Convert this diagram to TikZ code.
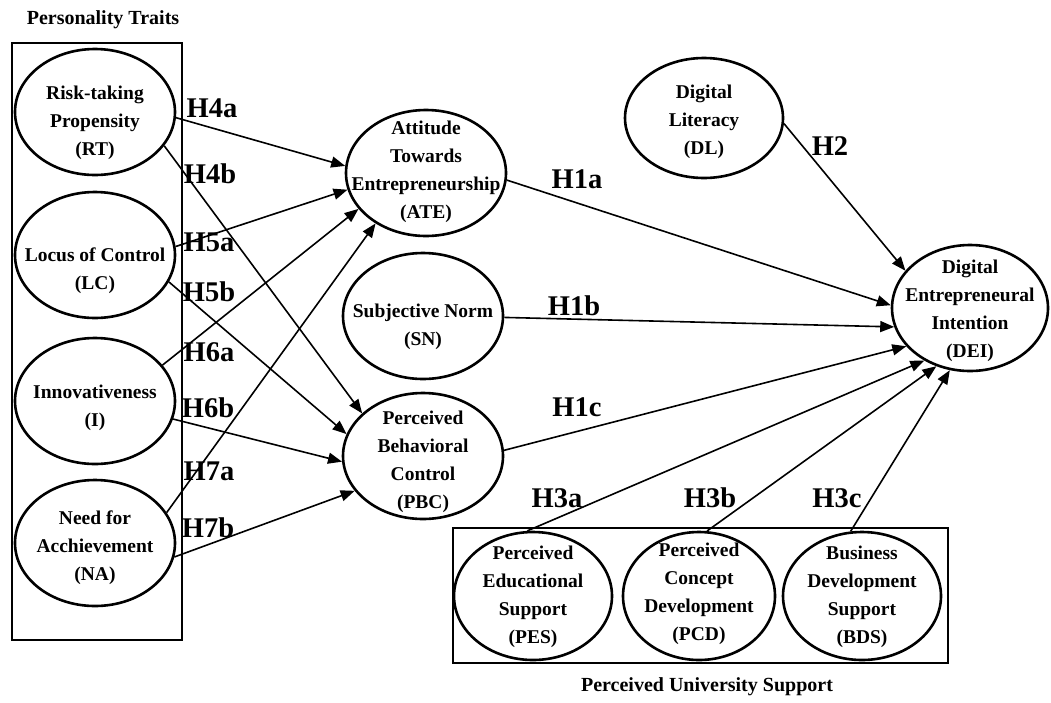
\documentclass[tikz,border=0pt]{standalone}
\usepackage{fontspec}
\setmainfont{Liberation Serif}
\usepackage{tikz}
\usetikzlibrary{shapes.geometric,arrows.meta}

% text inside an ellipse, kept from growing the shape; optional drop
\newcommand{\lattext}[2][0pt]{\makebox[0pt]{\smash{\raisebox{\dimexpr-5pt-#1\relax}{\begin{tabular}{@{}c@{}}#2\end{tabular}}}}}

\begin{document}
\begin{tikzpicture}[
  x=1pt, y=-1pt,
  lat/.style={
    ellipse, draw=black, line width=2.6pt, inner sep=0pt,
    minimum width=160pt, minimum height=126pt,
    font=\fontsize{19.5}{28}\selectfont\bfseries
  },
  ttl/.style={font=\fontsize{20}{24}\selectfont\bfseries, inner sep=0pt},
  hyp/.style={font=\fontsize{28.5}{30}\selectfont\bfseries, inner sep=0pt},
  grp/.style={draw=black, line width=2.4pt},
  arr/.style={-{Triangle[length=14pt,width=11pt]}, line width=1.6pt}
]
\useasboundingbox (0,0) rectangle (1051,702);

% Group frames
\draw[grp] (12,43) rectangle (182,640);
\draw[grp] (453,528) rectangle (948,663);
\node[ttl] (ptlab) at (103,20) {Personality Traits};
\node[ttl] (pulab) at (707,687) {Perceived University Support};

% Personality traits
\node[lat] (RT) at (95,112) {\lattext[10pt]{Risk-taking\\Propensity\\(RT)}};
\node[lat] (LC) at (95,255) {\lattext[15pt]{Locus of Control\\(LC)}};
\node[lat] (IN) at (95,401) {\lattext[6pt]{Innovativeness\\(I)}};
\node[lat] (NA) at (95,543) {\lattext[4pt]{Need for\\Acchievement\\(NA)}};

% TPB constructs
\node[lat] (ATE) at (426,173) {\lattext[-2pt]{Attitude\\Towards\\Entrepreneurship\\(ATE)}};
\node[lat] (SN) at (423,316) {\lattext[10pt]{Subjective Norm\\(SN)}};
\node[lat] (PBC) at (423,456) {\lattext[5pt]{Perceived\\Behavioral\\Control\\(PBC)}};

% Outcome and moderators
\node[lat, minimum width=158pt, minimum height=120pt] (DL) at (704,118) {\lattext[3pt]{Digital\\Literacy\\(DL)}};
\node[lat, minimum width=156pt] (DEI) at (970,308) {\lattext[2pt]{Digital\\Entrepreneural\\Intention\\(DEI)}};

% University support
\node[lat, minimum width=158pt, minimum height=128pt] (PES) at (533,596) {\lattext{Perceived\\Educational\\Support\\(PES)}};
\node[lat, minimum width=152pt, minimum height=128pt] (PCD) at (699,596) {\lattext[-3pt]{Perceived\\Concept\\Development\\(PCD)}};
\node[lat, minimum width=158pt, minimum height=128pt] (BDS) at (862,596) {\lattext{Business\\Development\\Support\\(BDS)}};

% Arrows
\foreach \a/\p/\b/\q in {RT/-4/ATE/175, RT/-26/PBC/145, LC/6/ATE/192, LC/-20/PBC/164,
    IN/28/ATE/208, IN/-13/PBC/184, NA/23/ATE/225, NA/-10/PBC/207,
    ATE/-5/DEI/178, SN/-1/DEI/194, PBC/4/DEI/211, DL/-4/DEI/150,
    PES/95/DEI/229, PCD/83/DEI/240, BDS/100/DEI/252}
  \draw[arr] (\a.\p) -- (\b.\q);

% Hypothesis labels
\foreach \h/\x/\y in {H4a/212/108, H4b/210/174, H5a/209/242, H5b/209/292,
    H6a/209/352, H6b/208/408, H7a/209/471, H7b/208/528,
    H1a/577/179, H1b/574/306, H1c/577/407, H2/830/146,
    H3a/557/498, H3b/710/498, H3c/837/498}
  \node[hyp] (\h) at (\x,\y) {\h};
\end{tikzpicture}
\end{document}
